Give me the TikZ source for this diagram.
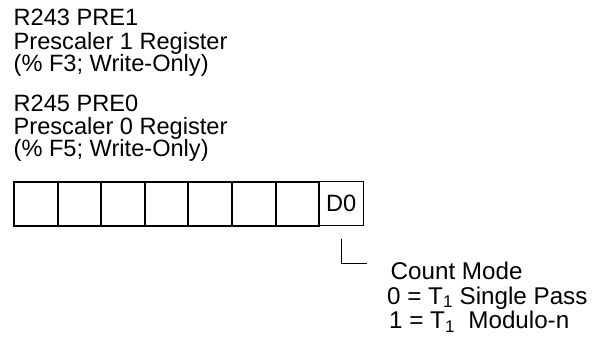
\documentclass[tikz,border=0pt]{standalone}
\usepackage{fontspec}
\setmainfont{Liberation Sans}
\usetikzlibrary{positioning}

\tikzset{
  lbl/.style={anchor=base west, inner sep=0pt, font=\fontsize{23.6}{23.6}\selectfont},
  desc/.style={anchor=base west, inner sep=0pt, font=\fontsize{24.2}{24.2}\selectfont},
  cell/.style={draw, line width=2pt, minimum width=43.6pt, minimum height=44pt, inner sep=0pt},
}

\begin{document}
\begin{tikzpicture}[x=1pt,y=-1pt]
  \useasboundingbox (0,0) rectangle (600,341);
  % register names
  \foreach \y/\txt [count=\i] in {25.7/R243 PRE1, 49.3/Prescaler 1 Register, 71.8/(\% F3; Write-Only),
                                  111/R245 PRE0, 134.3/Prescaler 0 Register, 156.8/(\% F5; Write-Only)} {
    \node[lbl] (hdr\i) at (13.5,\y) {\txt};
  }
  % bit cells
  \node[cell, line width=1pt, font=\fontsize{23.6}{23.6}\selectfont] (d0) at (341.2,203.7) {D0};
  \foreach \i in {0,...,6} {
    \node[cell] (c\i) at (14+43.6*\i+21.8,203.7) {};
  }
  % bit description
  \node[desc] (mode) at (390.5,279.5) {Count Mode};
  \node[desc] (pass0) at (387,304) {0 = T\textsubscript{1} Single Pass};
  \node[desc] (pass1) at (389,328.5) {1 = T\textsubscript{1}\ \ Modulo-n};
  \coordinate[below=12.3pt of d0] (tick);
  \draw[line width=0.8pt] (tick) |- ([xshift=-24pt,yshift=-2pt]mode.north west);
\end{tikzpicture}
\end{document}
